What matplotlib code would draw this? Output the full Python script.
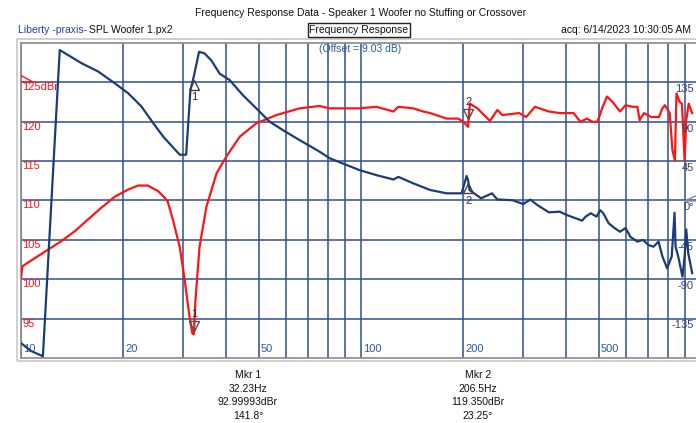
import matplotlib.pyplot as plt
import matplotlib.transforms as mtransforms
from matplotlib.patches import Rectangle, Polygon

plt.rcParams['font.family'] = ['Liberation Sans', 'DejaVu Sans']

W, H = 696, 423

# SPL curve (dBr)
spl_freq = [10.0, 10.1, 11.0, 12.0, 13.1, 14.4, 15.75, 17.2, 18.9, 20.7, 22.1, 23.6,
            25.3, 26.4, 27.0, 28.0, 29.3, 30.3, 31.2, 31.9, 32.23, 32.6, 33.5, 35.1,
            37.6, 40.2, 44.0, 49.2, 56.4, 66.0, 75.4, 81.0, 98.9, 111.0, 124.6, 128.8,
            142.5, 152.5, 159.8, 178.6, 193.1, 200.0, 206.5, 209.0, 220.0, 239.5, 251.8,
            260.6, 292.0, 306.0, 325.0, 335.0, 357.0, 384.0, 422.0, 442.0, 462.0, 479.0,
            496.0, 514.0, 529.0, 550.0, 578.0, 600.0, 630.0, 650.0, 660.0, 680.0, 714.0,
            752.0, 770.0, 783.0, 809.0, 824.0, 838.0, 847.0, 866.0, 879.0, 895.0, 905.0,
            920.0, 942.0]
spl_db = [100.2, 101.65, 102.7, 103.75, 104.8, 106.1, 107.6, 109.05, 110.5, 111.4, 111.9, 111.9,
          111.2, 110.4, 109.9, 107.5, 104.1, 99.9, 95.7, 93.15, 93.0, 97.4, 104.1, 109.2,
          113.45, 115.6, 118.1, 119.8, 120.85, 121.7, 122.0, 121.7, 121.7, 121.9, 121.3, 121.9,
          121.7, 121.3, 121.1, 120.4, 120.4, 120.0, 119.35, 122.3, 121.7, 120.1, 121.5,
          120.85, 121.1, 120.6, 121.9, 121.7, 121.3, 121.1, 121.1, 120.0, 120.4, 120.0,
          120.0, 121.9, 123.2, 122.5, 121.3, 122.1, 121.9, 121.9, 120.2, 121.1, 120.6,
          120.6, 121.7, 122.1, 121.1, 116.4, 115.1, 123.6, 122.5, 122.3, 115.1, 120.2,
          122.3, 121.1]

# phase curve (degrees)
ph_freq = [10.0, 10.7, 11.6, 13.0, 15.05, 16.85, 18.87, 20.66, 22.6, 24.7, 26.2, 29.3,
           30.6, 31.5, 32.23, 33.4, 34.7, 36.3, 38.4, 41.1, 44.9, 49.2, 53.9, 58.9, 66.0,
           75.4, 81.0, 88.4, 98.9, 111.0, 124.6, 128.8, 142.5, 159.8, 178.6, 197.6, 204.5,
           206.5, 208.5, 225.5, 242.8, 251.8, 279.0, 300.0, 315.0, 331.0, 357.0, 384.0,
           403.0, 447.0, 458.0, 474.0, 493.0, 505.0, 516.0, 535.0, 557.0, 578.0, 600.0,
           620.0, 650.0, 675.0, 700.0, 725.0, 750.0, 770.0, 795.0, 820.0, 836.0, 842.0,
           857.0, 882.0, 895.0, 905.0, 917.0, 942.0]
ph_deg = [-163, -172, -178, 172, 157, 147.5, 134, 122.6, 107.5, 86.4, 73, 52.3,
          52.3, 126, 141.8, 170, 168, 160, 145, 137.6, 120.5, 105.3, 90, 80.5, 69,
          56, 48.2, 42.3, 34.8, 29, 24, 27, 19.6, 12, 8.2, 8.2, 28,
          23.25, 12, 2.5, 8.2, 1.2, 0.3, -4, 1, -5.5, -13.5, -12.8,
          -16.6, -23, -18.4, -14.6, -18.4, -11, -14.6, -26, -31.5, -35.7, -31.5,
          -41.6, -47, -45, -50.8, -52.8, -47, -64, -77.5, -64, -14, -53,
          -64, -87, -64, -33, -60, -83]

mkr_freq = [32.23, 206.5]
mkr_db = [92.99993, 119.350]
mkr_ph = [141.8, 23.25]

x_grid = [10, 20, 30, 40, 50, 60, 70, 80, 90, 100, 200, 300, 400, 500, 600, 700, 800, 900, 1000]
x_labels = [10, 20, 50, 100, 200, 500]
db_ticks = [95, 100, 105, 110, 115, 120, 125]
db_labels = ['95', '100', '105', '110', '115', '120', '125dBr']
ph_ticks = [-135, -90, -45, 0, 45, 90, 135]
ph_labels = ['-135', '-90', '-45', '0°', '45', '90', '135']

RED = '#ff1414'
NAVY = '#1c3c78'
GRID = '#2f4f8f'


def px(x, y):
    # pixel position (origin top-left) -> figure fraction
    return x / W, 1 - y / H


fig = plt.figure(figsize=(W / 100, H / 100), dpi=100)
left, top, right, bottom = 21, 43, 701, 358
ax = fig.add_axes([left / W, 1 - bottom / H, (right - left) / W, (bottom - top) / H])
ax.set_xscale('log')
ax.set_xlim(10, 1000)
ax.set_ylim(90, 130)
ax.set_xticks(x_grid)
ax.set_xticks([], minor=True)
ax.set_yticks(db_ticks)
ax.tick_params(which='both', length=0, labelbottom=False, labelleft=False)
ax.grid(True, color=GRID, lw=1.1)
for s in ax.spines.values():
    s.set_color('#8a8a8a')
    s.set_linewidth(1.2)

ax2 = ax.twinx()
ax2.set_ylim(-180, 180)
ax2.set_yticks([])
for s in ax2.spines.values():
    s.set_visible(False)

ax.plot(spl_freq, spl_db, color=RED, lw=1.6, zorder=3)
ax2.plot(ph_freq, ph_deg, color=NAVY, lw=1.6, zorder=3)

# axis labels drawn inside the plot
for v, lab in zip(db_ticks, db_labels):
    ax.text(0.002, v, lab, transform=ax.get_yaxis_transform(), color=RED, fontsize=8,
            ha='left', va='top', zorder=2)
for v, lab in zip(ph_ticks, ph_labels):
    ax2.text(*px(694, 0), lab, transform=mtransforms.blended_transform_factory(fig.transFigure, ax2.transData),
             color='#34466e', fontsize=8, ha='right', va='top', zorder=2)
    ax2.texts[-1].set_y(v - 2)
for f in x_labels:
    ax.text(f * 1.015, 0.012, str(f), transform=ax.get_xaxis_transform(), color='#2a5aa8',
            fontsize=8, ha='left', va='bottom', zorder=2)

# reference triangles
ax.add_patch(Polygon([px(20, 75), px(20, 82), px(33, 82)], closed=True, fill=False,
                     edgecolor=RED, lw=1, transform=fig.transFigure, zorder=4))
ax.add_patch(Polygon([px(703, 193), px(703, 201), px(684, 201)], closed=True, fill=False,
                     edgecolor='#8a8a9a', lw=1, transform=fig.transFigure, zorder=4))

# markers
for i, (f, d, p) in enumerate(zip(mkr_freq, mkr_db, mkr_ph)):
    n = str(i + 1)
    up = 6 if i == 0 else 9
    tr = mtransforms.offset_copy(ax.transData, fig=fig, x=0, y=up, units='points')
    ax.plot([f], [d], marker='v', ms=6.5, mfc='none', mec='#505050', mew=1, transform=tr, zorder=5)
    ax.annotate(n, (f, d), xytext=(0, up + 9), textcoords='offset points', ha='center',
                va='center', fontsize=8, color='#303030', zorder=5)
    tr2 = mtransforms.offset_copy(ax2.transData, fig=fig, x=0, y=-6, units='points')
    ax2.plot([f], [p], marker='^', ms=6.5, mfc='none', mec='#404040', mew=1, transform=tr2, zorder=5)
    ax2.annotate(n, (f, p), xytext=(0, -15), textcoords='offset points', ha='center',
                 va='center', fontsize=8, color='#303030', zorder=5)

# outer border
fig.add_artist(Rectangle(px(17, 361), 690 / W, 322 / H, transform=fig.transFigure,
                         fill=False, edgecolor='#c8c8c8', lw=1.2))

# header
fig.text(*px(361, 13), 'Frequency Response Data - Speaker 1 Woofer no Stuffing or Crossover',
         ha='center', va='center', fontsize=7.5, color='#111111')
fig.text(*px(18, 30), 'Liberty -praxis-', ha='left', va='center', fontsize=7.5, color='#2a3ab0')
fig.text(*px(89, 30), 'SPL Woofer 1.px2', ha='left', va='center', fontsize=7.5, color='#111111')
fig.text(*px(359, 30), 'Frequency Response', ha='center', va='center', fontsize=7.5, color='#111111',
         bbox=dict(boxstyle='square,pad=0.15', fc='white', ec='#222222', lw=1))
fig.text(*px(691, 30), 'acq: 6/14/2023 10:30:05 AM', ha='right', va='center', fontsize=7.5,
         color='#111111')
ax.text(*px(360, 49), '(Offset = 9.03 dB)', transform=fig.transFigure, ha='center', va='center',
        fontsize=7.5, color='#2a5aa8', zorder=4)

# marker readouts
for i, (xc, f, d, p) in enumerate(zip([248, 478], mkr_freq, mkr_db, mkr_ph)):
    lines = ['Mkr %d' % (i + 1), '%gHz' % f,
             ('%.5f' % d if i == 0 else '%.3f' % d) + 'dBr', '%g°' % p]
    for k, t in enumerate(lines):
        fig.text(*px(xc, 375 + 13.7 * k), t, ha='center', va='center', fontsize=7.5,
                 color='#111111')

fig.savefig('out.png', dpi=100, facecolor='white')
